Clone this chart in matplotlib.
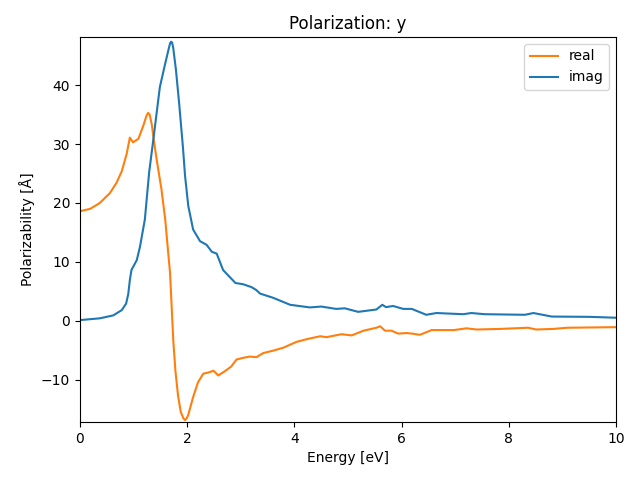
import matplotlib
matplotlib.use('Agg')
import matplotlib.pyplot as plt

# energy grid and values (real part)
energy_real = [0, 0.19, 0.37, 0.56, 0.68, 0.78, 0.87, 0.93, 0.99, 1.09, 1.18, 1.24, 1.27, 1.30,
               1.34, 1.38, 1.43, 1.52, 1.59, 1.64, 1.68, 1.71, 1.74, 1.78, 1.83, 1.88, 1.93,
               1.96, 1.99, 2.02, 2.11, 2.20, 2.30, 2.40, 2.49, 2.58, 2.70, 2.82, 2.92, 3.05,
               3.17, 3.29, 3.42, 3.60, 3.79, 4.04, 4.25, 4.48, 4.60, 4.88, 5.07, 5.29, 5.53,
               5.60, 5.69, 5.81, 5.94, 6.09, 6.20, 6.34, 6.56, 6.97, 7.21, 7.40, 7.84, 8.36,
               8.51, 8.83, 9.09, 10.0]
real = [18.6, 19.0, 20.0, 21.7, 23.4, 25.4, 28.3, 31.1, 30.3, 30.9, 33.1, 34.8, 35.3, 35.0,
        33.3, 30.5, 27.4, 22.3, 17.2, 12.1, 8.1, 2.4, -3.3, -8.5, -12.8, -15.5, -16.6,
        -16.9, -16.6, -16.0, -13.0, -10.5, -9.0, -8.8, -8.5, -9.3, -8.6, -7.8, -6.6, -6.3,
        -6.1, -6.2, -5.5, -5.1, -4.6, -3.6, -3.1, -2.65, -2.8, -2.3, -2.5, -1.7, -1.2,
        -0.95, -1.7, -1.7, -2.2, -2.1, -2.2, -2.4, -1.6, -1.6, -1.3, -1.5, -1.4, -1.2,
        -1.5, -1.4, -1.2, -1.1]

# imaginary part
energy_imag = [0, 0.37, 0.62, 0.78, 0.86, 0.90, 0.93, 0.96, 1.06, 1.12, 1.21, 1.29, 1.37, 1.49,
               1.59, 1.65, 1.68, 1.70, 1.72, 1.74, 1.79, 1.85, 1.92, 1.96, 2.02, 2.11, 2.24,
               2.36, 2.46, 2.55, 2.67, 2.90, 3.04, 3.20, 3.29, 3.36, 3.60, 3.92, 4.29, 4.50,
               4.78, 4.94, 5.19, 5.53, 5.64, 5.71, 5.84, 6.03, 6.19, 6.46, 6.65, 7.15, 7.30,
               7.55, 8.30, 8.46, 8.80, 9.51, 10.0]
imag = [0.1, 0.4, 0.9, 1.8, 2.9, 4.5, 6.9, 8.6, 10.3, 12.6, 17.2, 25.2, 30.9, 39.7,
        43.7, 46.0, 47.1, 47.4, 47.2, 46.3, 42.6, 36.9, 29.5, 24.6, 19.5, 15.5, 13.5,
        12.9, 11.7, 11.4, 8.6, 6.4, 6.2, 5.7, 5.2, 4.6, 3.9, 2.7, 2.25, 2.4,
        2.0, 2.1, 1.5, 1.9, 2.7, 2.3, 2.5, 2.0, 2.0, 1.0, 1.3, 1.1, 1.3,
        1.1, 1.0, 1.3, 0.7, 0.65, 0.5]

fig, ax = plt.subplots(figsize=(6.4, 4.8), dpi=100)
ax.plot(energy_real, real, color='C1', label='real')
ax.plot(energy_imag, imag, color='C0', label='imag')
ax.set_xlim(0, 10)
ax.set_ylim(-17.2, 48.2)
ax.set_title('Polarization: y')
ax.set_xlabel('Energy [eV]')
ax.set_ylabel('Polarizability [Å]')
ax.legend(loc='upper right')
fig.subplots_adjust(left=0.125, right=0.9625, top=0.923, bottom=0.121)
fig.savefig('out.png')
